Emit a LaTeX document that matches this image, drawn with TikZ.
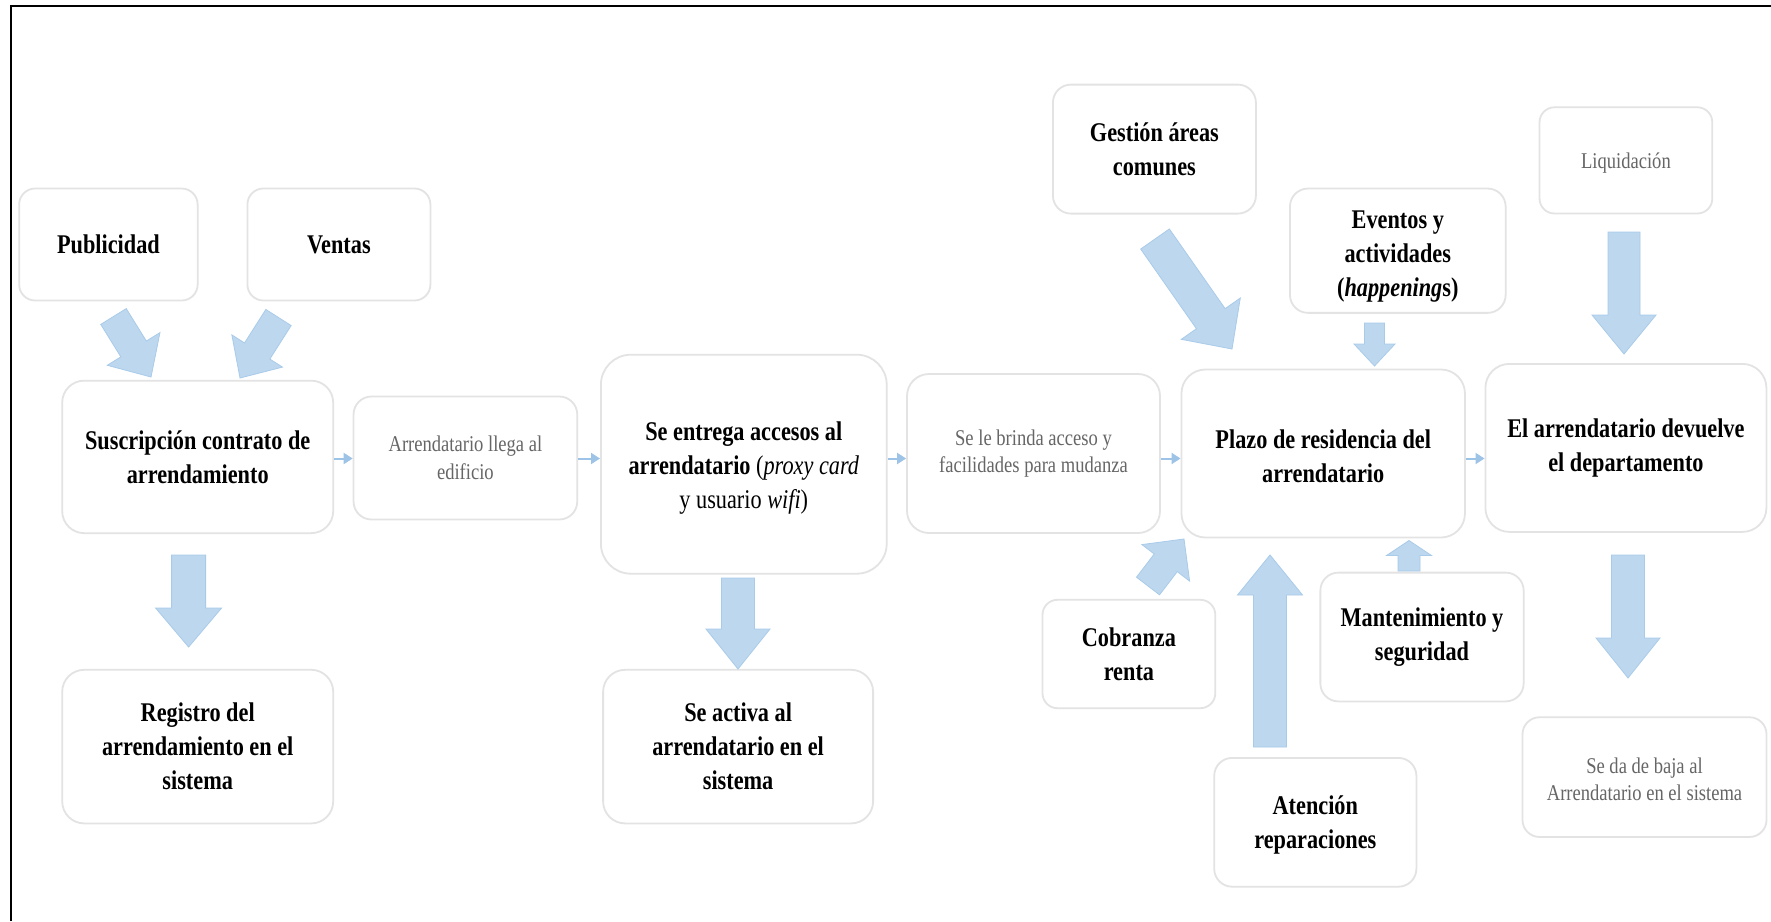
\documentclass[tikz,border=0pt]{standalone}
\usepackage{fontspec}
\setmainfont{Liberation Serif}[FakeStretch=0.825]
\usetikzlibrary{calc,arrows.meta}
\definecolor{arrfill}{HTML}{BDD7EE}
\definecolor{arredge}{HTML}{A9CBEA}
\definecolor{connc}{HTML}{9DC3E6}
\definecolor{boxline}{HTML}{E3E3E3}
\definecolor{graytxt}{HTML}{666666}
\tikzset{
 box/.style={draw=boxline, line width=1.8pt, fill=white, align=center, inner sep=0pt},
 boldtxt/.style={font=\fontsize{27}{34}\selectfont\bfseries, text=black},
 graytext/.style={font=\fontsize{22.5}{27.5}\selectfont, text=graytxt},
 conn/.style={draw=connc, line width=2pt, -{Triangle[length=9pt,width=11pt]}},
 blockarrow/.style={fill=arrfill, draw=arredge, line width=0.8pt, line join=miter},
}
\newcommand\blockarr[5]{%
 \coordinate (bah) at ($(#2)!#5!(#1)$);
 \draw[blockarrow] ($(#1)!#3!90:(#2)$) -- ($(bah)!#3!90:(#2)$) -- ($(bah)!#4!90:(#2)$) -- (#2)
   -- ($(bah)!#4!-90:(#2)$) -- ($(bah)!#3!-90:(#2)$) -- ($(#1)!#3!-90:(#2)$) -- cycle;}
\begin{document}
\begin{tikzpicture}[x=1pt,y=-1pt]
\useasboundingbox (0,0) rectangle (1771,921);
\fill[white] (0,0) rectangle (1771,921);
\draw[line width=2.4pt] (11,921) -- (11,6) -- (1771,6);

% boxes
\node[box, boldtxt, minimum width=178.5pt, minimum height=112pt, rounded corners=16pt] (pub) at (108.4,244.5) {Publicidad};
\node[box, boldtxt, minimum width=183pt, minimum height=112pt, rounded corners=16pt] (ven) at (338.9,244.5) {Ventas};
\node[box, boldtxt, minimum width=271pt, minimum height=152.5pt, rounded corners=22pt] (susc) at (197.7,456.9) {Suscripción contrato de\\arrendamiento};
\node[box, graytext, minimum width=223.7pt, minimum height=123pt, rounded corners=18pt] (arr) at (465.4,458) {Arrendatario llega al\\edificio};
\node[box, boldtxt, minimum width=285.8pt, minimum height=219pt, rounded corners=30pt] (ent) at (743.8,464.2) {\rule{0pt}{26pt}Se entrega accesos al\\arrendatario {\mdseries (\textit{proxy card}}\\{\mdseries y usuario \textit{wifi})}};
\node[box, graytext, minimum width=253pt, minimum height=159pt, rounded corners=22pt] (brin) at (1033.5,453.5) {Se le brinda acceso y\\facilidades para mudanza};
\node[box, boldtxt, minimum width=283.5pt, minimum height=168pt, rounded corners=24pt] (plazo) at (1323.2,453.5) {\rule{0pt}{24pt}Plazo de residencia del\\arrendatario};
\node[box, boldtxt, minimum width=281pt, minimum height=168pt, rounded corners=24pt] (dev) at (1625.9,447.9) {El arrendatario devuelve\\el departamento};
\node[box, boldtxt, minimum width=271pt, minimum height=153.6pt, rounded corners=22pt] (reg) at (197.7,746.6) {Registro del\\arrendamiento en el\\sistema};
\node[box, boldtxt, minimum width=270pt, minimum height=153.6pt, rounded corners=22pt] (act) at (738.1,746.6) {Se activa al\\arrendatario en el\\sistema};
\node[box, boldtxt, minimum width=203pt, minimum height=129pt, rounded corners=18pt] (gest) at (1154.4,149.1) {Gestión áreas\\comunes};
\node[box, boldtxt, minimum width=215.7pt, minimum height=124.3pt, rounded corners=18pt] (even) at (1397.8,250.7) {\rule{0pt}{30pt}Eventos y\\actividades\\(\textit{happening}s)};
\node[box, graytext, minimum width=172.8pt, minimum height=106.2pt, rounded corners=15pt] (liq) at (1625.9,160.4) {\rule{0pt}{20pt}Liquidación};
\node[box, boldtxt, minimum width=172.8pt, minimum height=108.4pt, rounded corners=15pt] (cob) at (1128.9,654) {Cobranza\\renta};
\node[box, boldtxt, minimum width=203.3pt, minimum height=128.8pt, rounded corners=18pt] (mant) at (1422,637) {Mantenimiento y\\seguridad};
\node[box, boldtxt, minimum width=202.2pt, minimum height=128.8pt, rounded corners=18pt] (aten) at (1315.3,822.3) {\rule{0pt}{24pt}Atención\\reparaciones};
\node[box, graytext, minimum width=244pt, minimum height=119.7pt, rounded corners=17pt] (baja) at (1644.5,777.1) {\rule{0pt}{20pt}Se da de baja al\\Arrendatario en el sistema};

% small connectors
\coordinate (rowy) at (0,458.5);
\draw[conn] (susc.east |- rowy) -- (arr.west |- rowy);
\draw[conn] (arr.east |- rowy) -- (ent.west |- rowy);
\draw[conn] (ent.east |- rowy) -- (brin.west |- rowy);
\draw[conn] (brin.east |- rowy) -- (plazo.west |- rowy);
\draw[conn] (plazo.east |- rowy) -- (dev.west |- rowy);

% block arrows
\coordinate (a1t) at (113.5,316.5); \coordinate (a1h) at (151,377);
\blockarr{a1t}{a1h}{15pt}{31pt}{33pt}
\coordinate (a2t) at (278.5,317.5); \coordinate (a2h) at (240,378);
\blockarr{a2t}{a2h}{15pt}{30pt}{32pt}
\coordinate (a3t) at (188.6,555); \coordinate (a3h) at (188.6,647);
\blockarr{a3t}{a3h}{17pt}{33pt}{39pt}
\coordinate (a4t) at (738,578); \coordinate (a4h) at (738,669);
\blockarr{a4t}{a4h}{16.5pt}{32pt}{40pt}
\coordinate (a5t) at (1155,239); \coordinate (a5h) at (1232,349);
\blockarr{a5t}{a5h}{17.5pt}{36pt}{37pt}
\coordinate (a6t) at (1374.5,323); \coordinate (a6h) at (1374.5,366);
\blockarr{a6t}{a6h}{10pt}{20.5pt}{22pt}
\coordinate (a7t) at (1624,232); \coordinate (a7h) at (1624,354);
\blockarr{a7t}{a7h}{16pt}{32pt}{39pt}
\coordinate (a8t) at (1148,586); \coordinate (a8h) at (1184,539);
\blockarr{a8t}{a8h}{14.5pt}{30pt}{30pt}
\coordinate (a9t) at (1270,747); \coordinate (a9h) at (1270,555);
\blockarr{a9t}{a9h}{16.5pt}{32.5pt}{40pt}
\coordinate (a10t) at (1409,571); \coordinate (a10h) at (1409,540.5);
\blockarr{a10t}{a10h}{11pt}{22.5pt}{15pt}
\coordinate (a11t) at (1628,555); \coordinate (a11h) at (1628,678);
\blockarr{a11t}{a11h}{16.5pt}{32pt}{40pt}
\end{tikzpicture}
\end{document}
